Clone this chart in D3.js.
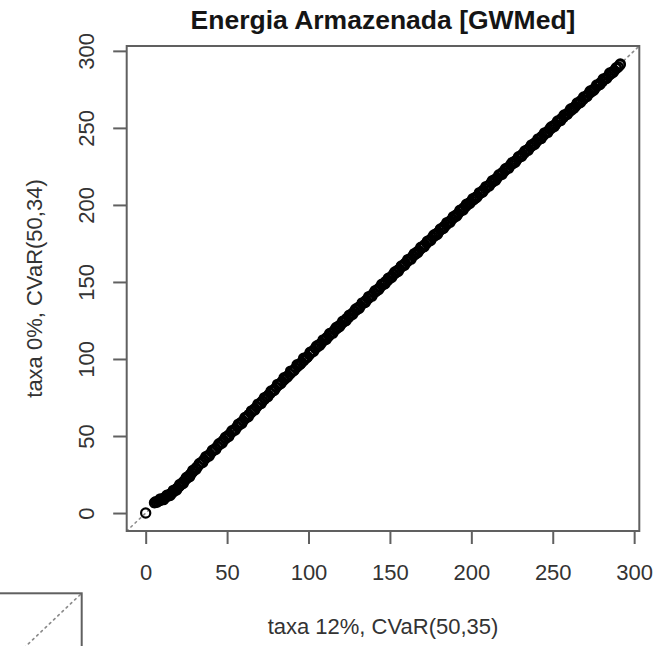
<!DOCTYPE html>
<html><head><meta charset="utf-8">
<script src="https://cdn.jsdelivr.net/npm/d3@7"></script>
<style>body{margin:0;background:#fff} svg{display:block}</style>
</head><body>
<svg id="chart" width="656" height="646"></svg>
<script>
const title = "Energia Armazenada [GWMed]";
const xLabel = "taxa 12%, CVaR(50,35)";
const yLabel = "taxa 0%, CVaR(50,34)";
const xTicks = [0, 50, 100, 150, 200, 250, 300];
const yTicks = [0, 50, 100, 150, 200, 250, 300];
const refIntercept = 0, refSlope = 1;

const pointsLow = [[0,0],[5.4,6.7],[6.1,7.3],[6.9,7.0],[7.6,7.6],[8.4,8.1],[9.1,8.3],[9.9,8.8],[10.6,9.2],[11.4,9.6],[12.2,10.2],[13.0,10.7],[13.8,11.3],[14.6,11.9],[15.4,12.5],[16.2,13.1],[17.0,13.9],[17.8,14.6],[18.6,15.4],[19.4,16.1],[20.2,17.0],[21.0,17.8],[21.8,18.7],[22.6,19.6],[23.4,20.5],[24.2,21.4],[25.0,22.3],[25.8,23.2],[26.6,24.1],[27.4,25.0],[28.2,25.9],[29.0,26.9],[29.8,27.9]];
const pointsMid = [[31.0,29.3],[32.2,30.6],[33.4,32.0],[34.6,33.1],[35.8,34.6],[37.0,35.7],[38.2,37.1],[39.4,38.2],[40.6,39.6],[41.8,40.7],[43.0,42.1],[44.2,43.4],[45.4,44.5],[46.6,45.9],[47.8,47.2],[49.0,48.3],[50.2,49.8],[51.4,50.9],[52.6,52.3],[53.8,53.5],[55.0,54.6],[56.2,56.1],[57.4,57.2],[58.6,58.7],[59.8,59.8],[61.0,61.3],[62.2,62.4],[63.4,63.9],[64.6,65.0],[65.8,66.5],[67.0,67.6],[68.2,69.0],[69.4,70.3],[70.6,71.4],[71.8,72.8],[73.0,73.9],[74.2,75.3],[75.4,76.6],[76.6,77.7],[77.8,79.1],[79.0,80.2],[80.2,81.6],[81.4,82.9],[82.6,83.9],[83.8,85.4],[85.0,86.5],[86.2,87.9],[87.4,89.1],[88.6,90.2],[89.8,91.6],[91.0,92.7],[92.2,94.1],[93.4,95.3],[94.6,96.4],[95.8,97.8],[97.0,98.9],[98.2,100.3],[99.4,101.5]];
const pointsHigh = [[100.6,102.9],[101.8,104.5],[103.0,105.4],[104.2,106.9],[105.4,107.8],[106.6,109.3],[107.8,110.2],[109.0,111.7],[110.2,112.6],[111.4,114.1],[112.6,115.0],[113.8,116.5],[115.0,117.4],[116.2,118.9],[117.4,119.8],[118.6,121.4],[119.8,122.2],[121.0,123.7],[122.2,124.6],[123.4,126.2],[124.6,127.0],[125.8,128.5],[127.0,129.5],[128.2,130.9],[129.4,131.8],[130.6,133.4],[131.8,134.2],[133.0,135.8],[134.2,136.6],[135.4,138.1],[136.6,139.1],[137.8,140.5],[139.0,141.4],[140.2,143.0],[141.4,143.9],[142.6,145.3],[143.8,146.3],[145.0,147.8],[146.2,148.6],[147.4,150.2],[148.6,151.0],[149.8,152.5],[151.0,153.5],[152.2,154.9],[153.4,155.8],[154.6,157.4],[155.8,158.2],[157.0,159.8],[158.2,160.7],[159.4,162.1],[160.6,163.1],[161.8,164.6],[163.0,165.4],[164.2,167.0],[165.4,167.9],[166.6,169.4],[167.8,170.2],[169.0,171.8],[170.2,172.7],[171.4,174.2],[172.6,175.1],[173.8,176.5],[175.0,177.5],[176.2,179.0],[177.4,179.8],[178.6,181.4],[179.8,182.2],[181.0,183.8],[182.2,184.6],[183.4,186.2],[184.6,187.0],[185.8,188.5],[187.0,189.5],[188.2,190.9],[189.4,191.8],[190.6,193.4],[191.8,194.2],[193.0,195.7],[194.2,196.6],[195.4,198.2],[196.6,199.0],[197.8,200.5],[199.0,201.4]];
const pointsTop = [[200.2,202.6],[201.4,203.4],[202.6,204.9],[203.8,205.7],[205.0,207.3],[206.2,208.1],[207.4,209.6],[208.6,210.5],[209.8,211.9],[211.0,212.8],[212.2,214.3],[213.4,215.1],[214.6,216.6],[215.8,217.5],[217.0,219.0],[218.2,219.8],[219.4,221.3],[220.6,222.2],[221.8,223.6],[223.0,224.5],[224.2,226.0],[225.4,226.8],[226.6,228.3],[227.8,229.1],[229.0,230.6],[230.2,231.5],[231.4,232.9],[232.6,233.8],[233.8,235.3],[235.0,236.1],[236.2,237.6],[237.4,238.4],[238.6,239.9],[239.8,240.8],[241.0,242.2],[242.2,243.0],[243.4,244.6],[244.6,245.4],[245.8,246.8],[247.0,247.7],[248.2,249.2],[249.4,250.0],[250.6,251.5],[251.8,252.3],[253.0,253.8],[254.2,254.6],[255.4,256.1],[256.6,256.9],[257.8,258.4],[259.0,259.2],[260.2,260.7],[261.4,261.5],[262.6,263.0],[263.8,263.9],[265.0,265.3],[266.2,266.2],[267.4,267.7],[268.6,268.5],[269.8,270.0],[271.0,270.8],[272.2,272.3],[273.4,273.2],[274.6,274.6],[275.8,275.5],[277.0,277.0],[278.2,277.8],[279.4,279.3],[280.6,280.2],[281.8,281.6],[283.0,282.5],[284.2,283.9],[285.4,284.8],[286.6,286.2],[287.8,287.2],[289.0,288.5],[290.2,289.6],[291.3,290.8],[291.5,291.5]];
const pointsSpread = [[9,9.2],[11,8.7],[13,11.6],[15,11.4],[17,14.7],[19,14.9],[21,18.6],[23,19.2],[25,23.1],[27,23.6],[29,27.7],[31,28.5],[33,32.2],[35,32.8],[37,36.6],[39,37.0],[41,40.8],[43,41.3],[45,45.0],[47,45.5],[49,49.2],[51,49.7],[53,53.4],[55,53.9],[57,57.7],[59,58.1],[61,62.0],[63,62.5],[65,66.3],[67,66.9],[69,70.7],[71,71.2],[73,74.9],[75,75.5],[77,79.2],[79,79.7],[81,83.5],[83,84.1],[85,87.8],[87,88.3],[89,92.1],[91,92.6],[93,96.3],[95,96.8],[97,100.5],[99,101.0],[101,104.4],[103,104.8],[105,108.4],[107,108.9],[109,112.4],[111,112.8],[113,116.5],[115,116.8],[117,120.4],[119,120.9],[121,124.5],[123,124.8],[125,128.4],[127,128.9],[129,132.5],[131,132.8],[133,136.4],[135,136.9],[137,140.5],[139,140.8],[141,144.4],[143,144.9],[145,148.5],[147,148.8],[149,152.4],[151,152.9],[153,156.5],[155,156.8],[157,160.4],[159,160.9],[161,164.5],[163,164.8],[165,168.4],[167,168.9],[169,172.5],[171,172.8],[173,176.4],[175,176.9],[177,180.5],[179,180.8],[181,184.4],[183,184.9],[185,188.5],[187,188.8],[189,192.4],[191,192.9],[193,196.5],[195,196.8],[197,200.4],[199,200.9],[201,204.1],[203,204.6],[205,208.0],[207,208.4],[209,211.9],[211,212.3],[213,215.8],[215,216.1],[217,219.6],[219,220.0],[221,223.5],[223,223.9],[225,227.4],[227,227.7],[229,231.3],[231,231.6],[233,235.1],[235,235.5],[237,239.0],[239,239.4],[241,242.9],[243,243.2],[245,246.8],[247,247.1],[249,250.6],[251,251.0],[253,254.5],[255,254.9],[257,258.4],[259,258.8],[261,262.3],[263,262.7],[265,266.2],[267,266.5],[269,270.1],[271,270.4],[273,274.0],[275,274.3],[277,277.9],[279,278.2],[281,281.7],[283,282.1],[285,285.6],[287,286.0],[289,289.1]];

const allPoints = pointsLow.concat(pointsMid, pointsHigh, pointsTop, pointsSpread);

// R-style 4% padded domains
function padded(ext) { const r = ext[1] - ext[0]; return [ext[0] - 0.04 * r, ext[1] + 0.04 * r]; }
const xDom = padded(d3.extent(allPoints, d => d[0]));
const yDom = padded(d3.extent(allPoints, d => d[1]));

const plot = { left: 126.7, right: 639.3, top: 46, bottom: 531 };
const x = d3.scaleLinear().domain(xDom).range([plot.left, plot.right]);
const y = d3.scaleLinear().domain(yDom).range([plot.bottom, plot.top]);

const svg = d3.select("#chart");
const FONT = "'Liberation Sans', Arial, sans-serif";
const frameColor = "#606060";
const textColor = "#333";

// fragment of the neighbouring panel (bottom-left)
const plotW = plot.right - plot.left, plotH = plot.bottom - plot.top;
const frag = { right: 81.7, top: 593.3 };
const fx = d3.scaleLinear().domain(xDom).range([frag.right - plotW, frag.right]);
const fy = d3.scaleLinear().domain(yDom).range([frag.top + plotH, frag.top]);
svg.append("clipPath").attr("id", "fragclip").append("rect")
  .attr("x", fx.range()[0]).attr("y", frag.top).attr("width", plotW).attr("height", plotH);
svg.append("line").attr("clip-path", "url(#fragclip)")
  .attr("x1", fx(xDom[0])).attr("y1", fy(refIntercept + refSlope * xDom[0]))
  .attr("x2", fx(xDom[1])).attr("y2", fy(refIntercept + refSlope * xDom[1]))
  .attr("stroke", "#8a8a8a").attr("stroke-width", 1.6).attr("stroke-dasharray", "1.8 4")
  .attr("stroke-linecap", "round");
svg.append("rect").attr("x", fx.range()[0]).attr("y", frag.top)
  .attr("width", plotW).attr("height", plotH)
  .attr("fill", "none").attr("stroke", frameColor).attr("stroke-width", 2);

// main panel
svg.append("clipPath").attr("id", "clip").append("rect")
  .attr("x", plot.left).attr("y", plot.top).attr("width", plotW).attr("height", plotH);

svg.append("line").attr("clip-path", "url(#clip)")
  .attr("x1", x(xDom[0])).attr("y1", y(refIntercept + refSlope * xDom[0]))
  .attr("x2", x(xDom[1])).attr("y2", y(refIntercept + refSlope * xDom[1]))
  .attr("stroke", "#8a8a8a").attr("stroke-width", 1.6).attr("stroke-dasharray", "1.8 4")
  .attr("stroke-linecap", "round");

svg.append("g").selectAll("circle").data(allPoints).join("circle")
  .attr("cx", d => x(d[0])).attr("cy", d => y(d[1])).attr("r", 4.6)
  .attr("fill", "none").attr("stroke", "#000").attr("stroke-width", 2.2);

svg.append("rect").attr("x", plot.left).attr("y", plot.top)
  .attr("width", plotW).attr("height", plotH)
  .attr("fill", "none").attr("stroke", frameColor).attr("stroke-width", 2);

// axes
const xAxis = svg.append("g").attr("transform", `translate(0,${plot.bottom})`)
  .call(d3.axisBottom(x).tickValues(xTicks).tickSize(13).tickFormat(d3.format("d")));
xAxis.select(".domain").remove();
xAxis.selectAll(".tick line").attr("stroke", frameColor).attr("stroke-width", 2);
xAxis.selectAll(".tick text").attr("y", 49).attr("dy", 0)
  .attr("font-family", FONT).attr("font-size", 22).attr("fill", textColor);

const yAxis = svg.append("g").attr("transform", `translate(${plot.left},0)`)
  .call(d3.axisLeft(y).tickValues(yTicks).tickSize(13.5).tickFormat(d3.format("d")));
yAxis.select(".domain").remove();
yAxis.selectAll(".tick line").attr("stroke", frameColor).attr("stroke-width", 2);
yAxis.selectAll(".tick text").attr("x", 0).attr("y", 94 - plot.left).attr("dy", 0)
  .attr("transform", "rotate(-90)").attr("text-anchor", "middle")
  .attr("font-family", FONT).attr("font-size", 22).attr("fill", textColor);

// titles
const cx = (plot.left + plot.right) / 2, cy = (plot.top + plot.bottom) / 2;
svg.append("text").attr("x", cx).attr("y", 29).attr("text-anchor", "middle")
  .attr("font-family", FONT).attr("font-weight", "bold").attr("font-size", 26.5)
  .attr("fill", "#151515").text(title);
svg.append("text").attr("x", cx).attr("y", 634).attr("text-anchor", "middle")
  .attr("font-family", FONT).attr("font-size", 22).attr("fill", textColor).text(xLabel);
svg.append("text").attr("transform", `translate(42,${cy}) rotate(-90)`).attr("text-anchor", "middle")
  .attr("font-family", FONT).attr("font-size", 22).attr("fill", textColor).text(yLabel);
</script>
</body></html>
